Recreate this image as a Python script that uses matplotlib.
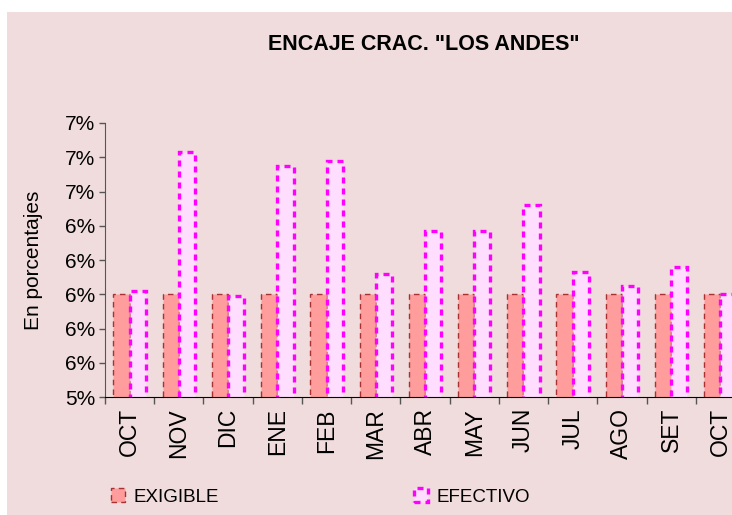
import numpy as np
import matplotlib
matplotlib.use("Agg")
import matplotlib.pyplot as plt
from matplotlib.patches import Rectangle

# data (percent)
months = ["OCT", "NOV", "DIC", "ENE", "FEB", "MAR", "ABR",
          "MAY", "JUN", "JUL", "AGO", "SET", "OCT"]
exigible = [6.0, 6.0, 6.0, 6.0, 6.0, 6.0, 6.0,
            6.0, 6.0, 6.0, 6.0, 6.0, 6.0]
efectivo = [6.02, 6.83, 5.99, 6.75, 6.78, 6.12, 6.37,
            6.37, 6.52, 6.13, 6.05, 6.16, 6.0]
yticks = [5.4, 5.6, 5.8, 6.0, 6.2, 6.4, 6.6, 6.8, 7.0]

plt.rcParams['font.family'] = ['Liberation Sans', 'DejaVu Sans']
bg = '#F0DCDC'

fig = plt.figure(figsize=(7.32, 5.15), dpi=100, facecolor='white')
# pink chart area, starts a bit in from the top-left corner
fig.patches.append(Rectangle((7/732, 0), 1, (515-12)/515, transform=fig.transFigure,
                             facecolor=bg, edgecolor='none', zorder=-10))

ax = fig.add_axes([105/732, (515-397)/515, 640/732, 274/515])
ax.set_facecolor(bg)
ax.patch.set_alpha(0)

x = np.arange(len(months))
w = 0.33
ax.bar(x - w/2, exigible, w, bottom=0, color='#FF9C9C', edgecolor='#A83232',
       linestyle=(0, (4, 3)), linewidth=1.0, label='EXIGIBLE')
ax.bar(x + w/2, efectivo, w, bottom=0, color='#FFDDFF', edgecolor='#FF00FF',
       linestyle=(0, (1.8, 1.5)), linewidth=2.4, label='EFECTIVO')

ax.set_xlim(-0.5, len(months) - 0.5)
ax.set_ylim(yticks[0], yticks[-1])
ax.set_yticks(yticks)
ax.set_yticklabels(["{:.0f}%".format(v) for v in yticks], fontsize=15)
ax.set_xticks(x)
ax.set_xticklabels(months, rotation=90, fontsize=16.5)
ax.set_xticks(np.arange(-0.5, len(months), 1), minor=True)
ax.tick_params(axis='x', which='major', length=0, pad=8)
ax.tick_params(axis='x', which='minor', length=5, color='#555555', width=1)
ax.tick_params(axis='y', length=4, color='#555555', width=1, pad=3)

for s in ['top', 'right']:
    ax.spines[s].set_visible(False)
ax.spines['left'].set_color('#555555')
ax.spines['bottom'].set_color('black')

ax.set_ylabel("En porcentajes", fontsize=15)
ax.yaxis.set_label_coords(-62/640, 0.5)

fig.text(424/732, 1 - 44/515, 'ENCAJE CRAC. "LOS ANDES"', ha='center', va='center',
         fontsize=15.5, fontweight='bold')

handles, labels = ax.get_legend_handles_labels()
fig.legend(handles, labels, ncol=2, loc='center left',
           bbox_to_anchor=(94/732, 1 - 497/515), frameon=False,
           fontsize=13.5, handlelength=0.75, handleheight=0.75,
           handletextpad=0.45, columnspacing=10.4)

fig.savefig("out.png", dpi=100, facecolor='white')
